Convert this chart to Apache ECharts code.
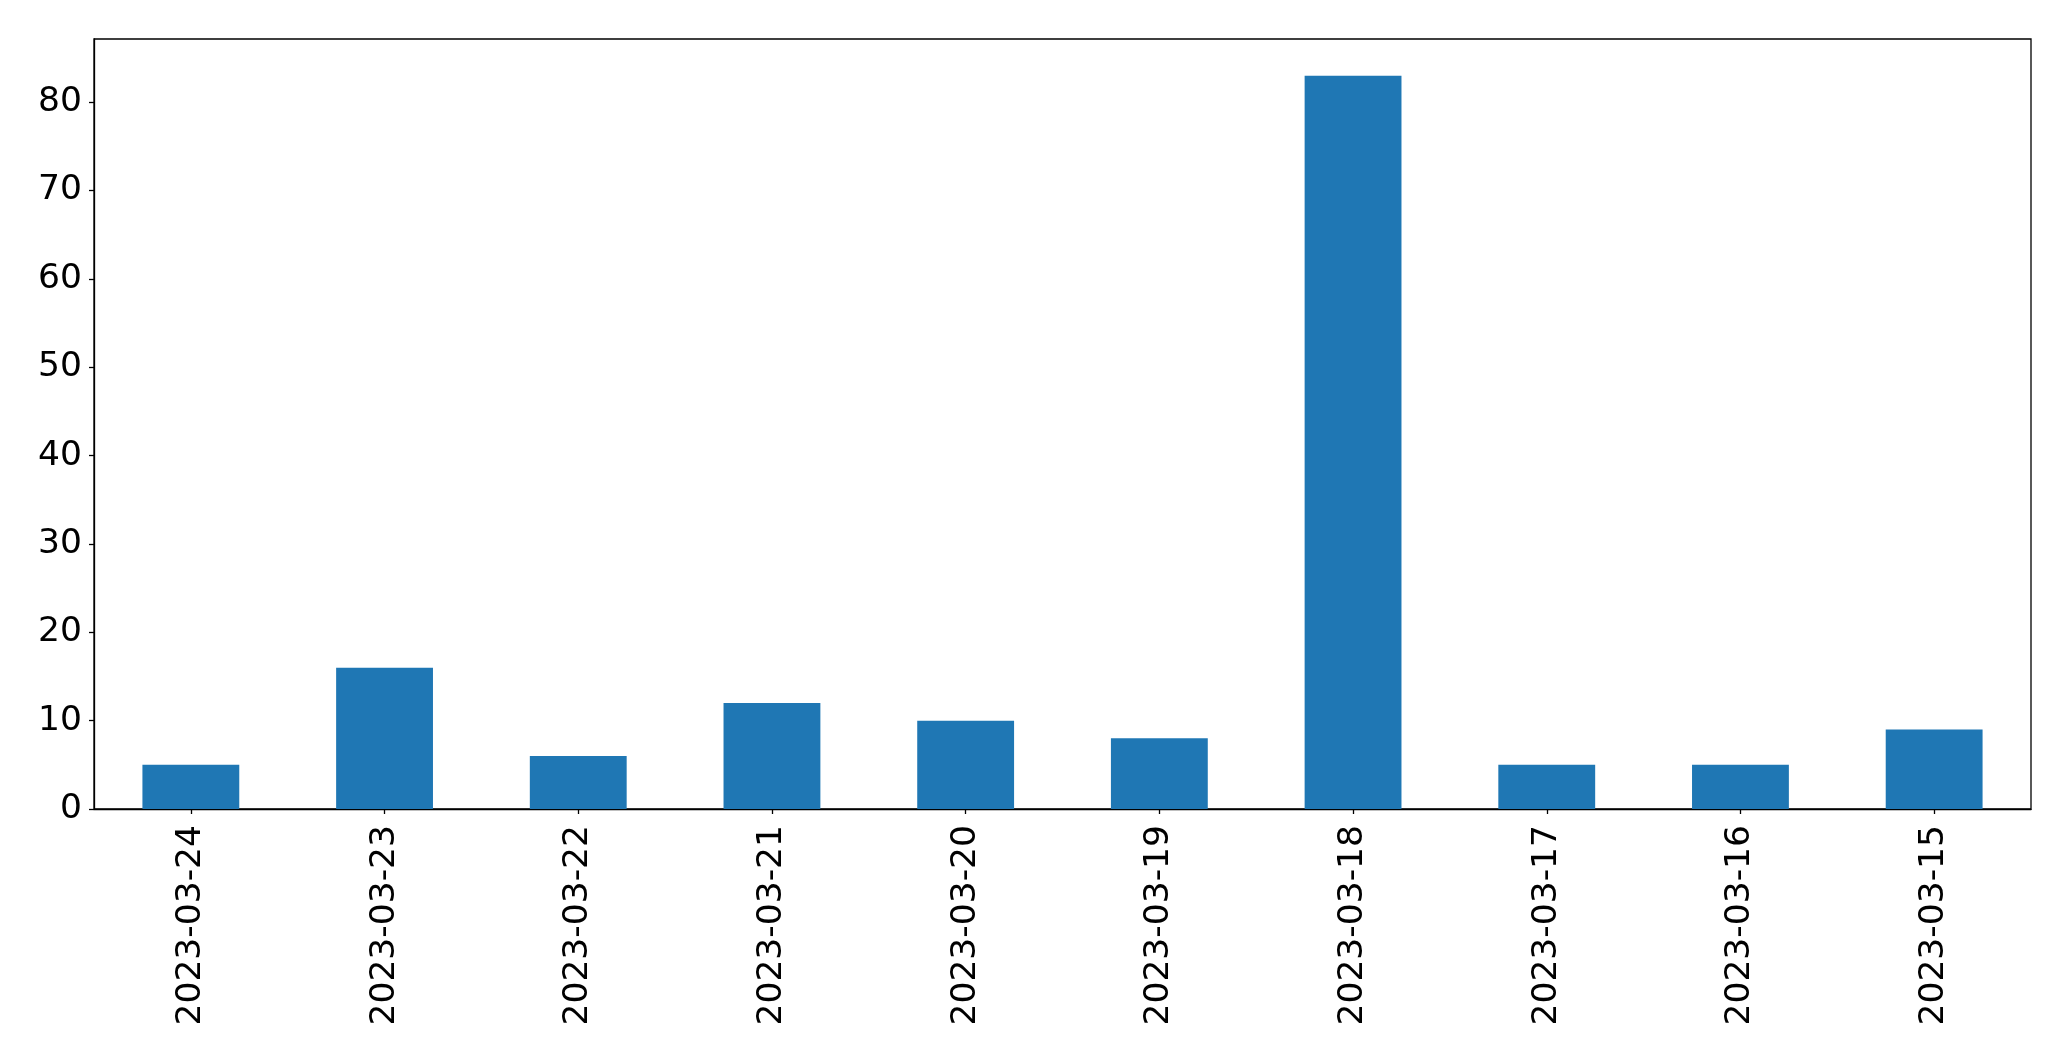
<!DOCTYPE html>
<html><head><meta charset="utf-8">
<script src="https://cdn.jsdelivr.net/npm/echarts@6/dist/echarts.min.js"></script>
<style>html,body{margin:0;padding:0;background:#fff}#c{width:2071px;height:1061px}</style>
</head><body><div id="c"></div>
<script>
const categories = ['2023-03-24','2023-03-23','2023-03-22','2023-03-21','2023-03-20','2023-03-19','2023-03-18','2023-03-17','2023-03-16','2023-03-15'];
const values = [5, 16, 6, 12, 10, 8, 83, 5, 5, 9];
const yTicks = [0, 10, 20, 30, 40, 50, 60, 70, 80];
const yMax = 87.15;

const chart = echarts.init(document.getElementById('c'), null, {renderer: 'canvas'});
const font = 'DejaVu Sans';
chart.setOption({
  animation: false,
  backgroundColor: '#fff',
  grid: {left: 94, top: 39, width: 1937, height: 770, show: true, borderColor: '#000', borderWidth: 1.3, containLabel: false},
  xAxis: {
    type: 'category', data: categories, boundaryGap: true,
    axisLine: {show: true, lineStyle: {color: '#000', width: 1.3}},
    axisTick: {show: true, alignWithLabel: true, length: 5, lineStyle: {color: '#000', width: 1.3}},
    axisLabel: {rotate: 90, fontSize: 34.5, fontFamily: font, color: '#000', margin: 16, interval: 0},
    splitLine: {show: false}
  },
  yAxis: {
    type: 'value', min: 0, max: yMax, interval: 10,
    axisLine: {show: true, lineStyle: {color: '#000', width: 1.3}},
    axisTick: {show: true, length: 5, lineStyle: {color: '#000', width: 1.3}, customValues: yTicks},
    axisLabel: {fontSize: 34.5, fontFamily: font, color: '#000', margin: 12, customValues: yTicks},
    splitLine: {show: false}
  },
  series: [{type: 'bar', data: values, barWidth: '50%', itemStyle: {color: '#1f77b4'}}]
});
</script></body></html>
